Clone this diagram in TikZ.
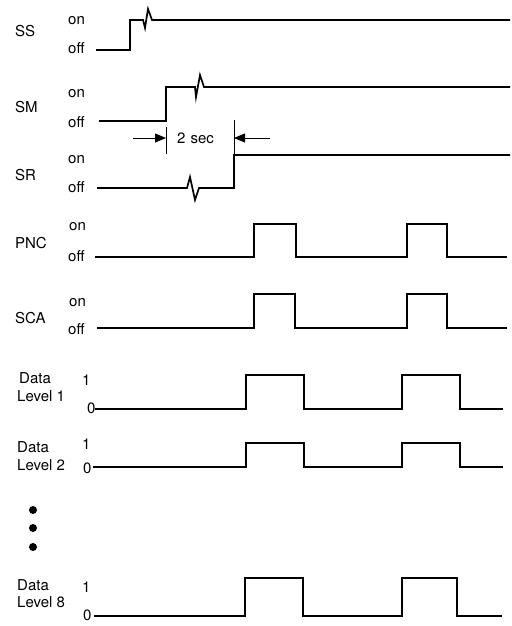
\documentclass[tikz,border=0pt]{standalone}
\usepackage{fontspec}
\setmainfont{TeX Gyre Heros}
\usetikzlibrary{arrows.meta}
\begin{document}
\begin{tikzpicture}[x=1pt,y=-1pt,
  sig/.style={line width=1.7pt,line join=miter},
  thin/.style={line width=0.8pt},
  lbl/.style={anchor=base west,inner sep=0pt,font=\fontsize{15}{18}\selectfont},
  dimarrow/.style={thin,-{Triangle[length=11pt,width=9pt]}},
  dot/.style={circle,fill=black,inner sep=0pt,minimum size=8pt}]
\useasboundingbox (0,0) rectangle (511,626);
% labels
\node[lbl] (ss) at (15,37) {SS};
\node[lbl] (sson) at (68,25) {on};
\node[lbl] (ssoff) at (68,53) {off};
\node[lbl] (sm) at (15,112) {SM};
\node[lbl] (smon) at (68,97) {on};
\node[lbl] (smoff) at (68,127) {off};
\node[lbl] (sr) at (15,180) {SR};
\node[lbl] (sron) at (68,163) {on};
\node[lbl] (sroff) at (68,192) {off};
\node[lbl] (pnc) at (15,248) {PNC};
\node[lbl] (pncon) at (69,230) {on};
\node[lbl] (pncoff) at (68,261) {off};
\node[lbl] (sca) at (15,323) {SCA};
\node[lbl] (scaon) at (69,306) {on};
\node[lbl] (scaoff) at (68,334) {off};
\node[lbl] (d1a) at (19,383) {Data};
\node[lbl] (d1b) at (17,401) {Level 1};
\node[lbl] (d1h) at (82,385) {1};
\node[lbl] (d1l) at (87,413) {0};
\node[lbl] (d2a) at (17,452) {Data};
\node[lbl] (d2b) at (17,470) {Level 2};
\node[lbl] (d2h) at (82,449) {1};
\node[lbl] (d2l) at (83,473) {0};
\node[lbl] (d8a) at (17,590) {Data};
\node[lbl] (d8b) at (17,607) {Level 8};
\node[lbl] (d8h) at (82,592) {1};
\node[lbl] (d8l) at (83,620) {0};
\node[dot] (dt1) at (33,510) {};
\node[dot] (dt2) at (33,528) {};
\node[dot] (dt3) at (33,547) {};
% SS
\draw[sig] (96,50) -- (130,50) -- (130,20) -- (143,20) -- (145,28) -- (148,9) -- (152,20) -- (510,20);
% SM
\draw[sig] (99,121) -- (166,121) -- (166,87) -- (195,87) -- (196,97) -- (200,75) -- (204,87) -- (510,87);
% SR
\draw[sig] (97,188) -- (187,188) -- (190,177) -- (195,200) -- (199,188) -- (234,188) -- (234,155) -- (510,155);
% 2 sec dimension
\draw[thin] (166,127) -- (166,154);
\draw[thin] (234,120) -- (234,155);
\draw[dimarrow] (133,138) -- (166,138);
\draw[dimarrow] (270,138) -- (234,138);
\node[lbl] (twosec) at (177,143) {2\,\,sec};
% PNC
\draw[sig] (95,257) -- (254,257) -- (254,224) -- (296,224) -- (296,257) -- (407,257) -- (407,224) -- (447,224) -- (447,257) -- (507,257);
% SCA
\draw[sig] (97,328) -- (254,328) -- (254,294) -- (295,294) -- (295,328) -- (407,328) -- (407,294) -- (447,294) -- (447,328) -- (507,328);
% Data level 1
\draw[sig] (95,409) -- (246,409) -- (246,375) -- (304,375) -- (304,409) -- (402,409) -- (402,375) -- (460,375) -- (460,409) -- (503,409);
% Data level 2
\draw[sig] (93,467) -- (246,467) -- (246,443) -- (304,443) -- (304,467) -- (402,467) -- (402,443) -- (460,443) -- (460,467) -- (503,467);
% Data level 8
\draw[sig] (94,616) -- (245,616) -- (245,578) -- (303,578) -- (303,616) -- (402,616) -- (402,578) -- (457,578) -- (457,616) -- (502,616);
\end{tikzpicture}
\end{document}
